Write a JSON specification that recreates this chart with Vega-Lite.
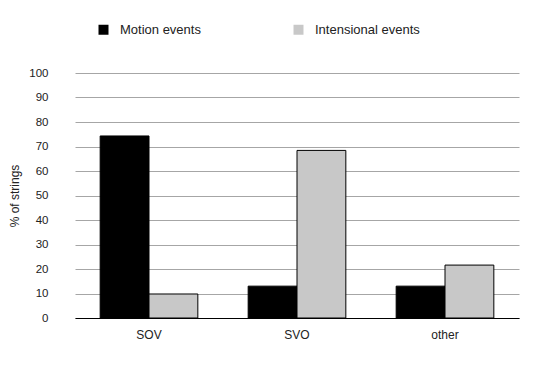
{
  "$schema": "https://vega.github.io/schema/vega-lite/v6.json",
  "width": 444,
  "height": 245,
  "autosize": {"type": "none"},
  "padding": {"left": 75, "top": 73, "right": 16, "bottom": 52},
  "background": "white",
  "config": {
    "view": {"stroke": null},
    "font": "Liberation Sans"
  },
  "data": {
    "values": [
      {"order": "SOV", "events": "Motion events", "pct": 74.3},
      {"order": "SOV", "events": "Intensional events", "pct": 9.8},
      {"order": "SVO", "events": "Motion events", "pct": 13},
      {"order": "SVO", "events": "Intensional events", "pct": 68.4},
      {"order": "other", "events": "Motion events", "pct": 13},
      {"order": "other", "events": "Intensional events", "pct": 21.6}
    ]
  },
  "mark": {"type": "bar", "stroke": "black", "strokeWidth": 1},
  "encoding": {
    "x": {
      "field": "order",
      "type": "nominal",
      "sort": ["SOV", "SVO", "other"],
      "scale": {"paddingInner": 0.34, "paddingOuter": 0.17},
      "axis": {
        "title": null,
        "labelAngle": 0,
        "labelFontSize": 12,
        "labelColor": "#222",
        "labelPadding": 11,
        "ticks": false,
        "domainColor": "black",
        "domainWidth": 1,
        "zindex": 1
      }
    },
    "xOffset": {
      "field": "events",
      "type": "nominal",
      "sort": ["Motion events", "Intensional events"],
      "scale": {"paddingInner": 0, "paddingOuter": 0}
    },
    "y": {
      "field": "pct",
      "type": "quantitative",
      "scale": {"domain": [0, 100]},
      "axis": {
        "title": "% of strings",
        "titleFontSize": 12,
        "titleFontWeight": "normal",
        "titleColor": "#222",
        "titlePadding": 7,
        "values": [0, 10, 20, 30, 40, 50, 60, 70, 80, 90, 100],
        "labelFontSize": 11.5,
        "labelColor": "#222",
        "labelPadding": 27,
        "ticks": false,
        "domain": false,
        "gridColor": "#a6a6a6",
        "gridWidth": 1
      }
    },
    "color": {
      "field": "events",
      "type": "nominal",
      "sort": ["Motion events", "Intensional events"],
      "scale": {"domain": ["Motion events", "Intensional events"], "range": ["#000000", "#c8c8c8"]},
      "legend": {
        "title": null,
        "orient": "none",
        "legendX": 22,
        "legendY": -50,
        "direction": "horizontal",
        "symbolType": "square",
        "symbolSize": 100,
        "symbolStrokeWidth": 0,
        "labelFontSize": 13,
        "labelColor": "#222",
        "labelOffset": 10,
        "columnPadding": 91
      }
    }
  }
}
